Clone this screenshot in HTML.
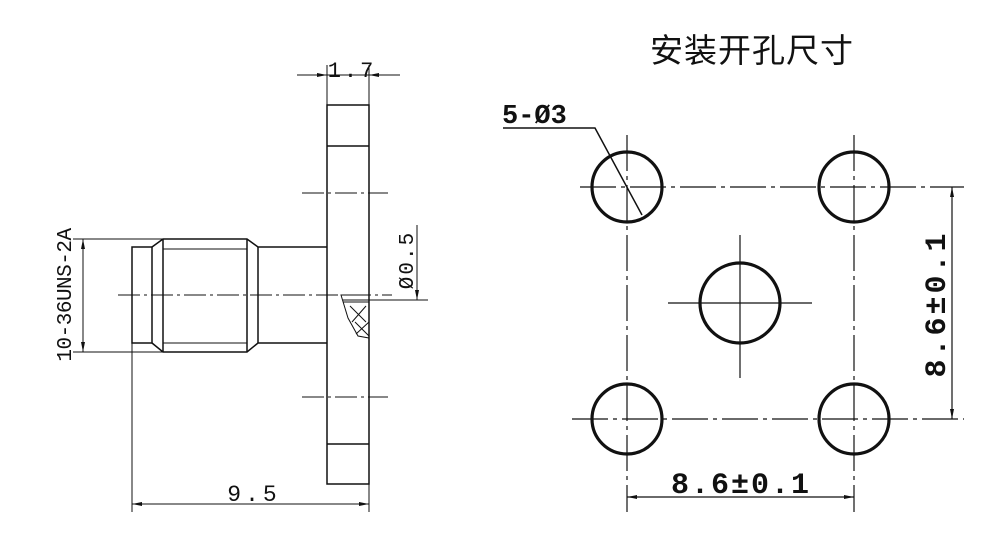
<!DOCTYPE html>
<html><head><meta charset="utf-8"><style>
html,body{margin:0;padding:0;background:#fff;width:1000px;height:544px;overflow:hidden}
svg{display:block}
text{font-family:"Liberation Mono","DejaVu Sans Mono",monospace;fill:#111}
</style></head><body>
<svg width="1000" height="544" viewBox="0 0 1000 544" xmlns="http://www.w3.org/2000/svg">
<defs>
<marker id="a" viewBox="0 0 10 4" refX="10" refY="2" markerWidth="10" markerHeight="4" orient="auto-start-reverse" markerUnits="userSpaceOnUse"><path d="M0,0 L10,2 L0,4 z" fill="#111"/></marker>
</defs>
<g stroke="#111" fill="none" stroke-width="1.5">
<rect x="327" y="105" width="42" height="379"/>
<line x1="327" y1="146" x2="369" y2="146"/>
<line x1="327" y1="444" x2="369" y2="444"/>
<rect x="132" y="247" width="20" height="96"/>
<path d="M152,247 L163,239 L247,239 L258,247 L327,247"/>
<path d="M152,343 L163,352 L247,352 L258,343 L327,343"/>
<line x1="163" y1="239" x2="163" y2="352"/>
<line x1="247" y1="239" x2="247" y2="352"/>
<line x1="258" y1="247" x2="258" y2="343"/>
<line x1="163" y1="249" x2="247" y2="249" stroke-width="1"/>
<line x1="163" y1="343" x2="247" y2="343" stroke-width="1"/>
<path d="M341,295 L369,295 L369,338 L358,336 L348,318 Z" stroke-width="1"/>
<path d="M343,300 L369,300 M343,302 L369,302 M350,306 L366,322 M366,306 L352,322 M355,322 L369,336 M369,322 L356,334" stroke-width="1"/>
</g>
<g stroke="#111" stroke-width="1" fill="none" stroke-dasharray="22,4,3,4">
<line x1="118" y1="295" x2="392" y2="295"/>
<line x1="302" y1="193" x2="388" y2="193"/>
<line x1="302" y1="397" x2="388" y2="397"/>
</g>
<g stroke="#111" stroke-width="1" fill="none">
<line x1="327" y1="65" x2="327" y2="105"/>
<line x1="369" y1="65" x2="369" y2="105"/>
<line x1="297" y1="75" x2="327" y2="75" marker-end="url(#a)"/>
<line x1="327" y1="75" x2="369" y2="75"/>
<line x1="400" y1="75" x2="369" y2="75" marker-end="url(#a)"/>
<line x1="73" y1="239" x2="163" y2="239"/>
<line x1="73" y1="352" x2="163" y2="352"/>
<line x1="83" y1="239" x2="83" y2="352" marker-start="url(#a)" marker-end="url(#a)"/>
<line x1="132" y1="343" x2="132" y2="512"/>
<line x1="369" y1="484" x2="369" y2="512"/>
<line x1="132" y1="504" x2="369" y2="504" marker-start="url(#a)" marker-end="url(#a)"/>
<line x1="417" y1="225" x2="417" y2="300" marker-end="url(#a)"/>
<line x1="369" y1="300" x2="428" y2="300"/>
</g>
<text x="352" y="77" font-size="22" letter-spacing="3" text-anchor="middle">1.7</text>
<text x="254" y="501" font-size="23" letter-spacing="4" text-anchor="middle">9.5</text>
<text transform="translate(71,295) rotate(-90)" font-size="21" letter-spacing="-0.5" text-anchor="middle">10-36UNS-2A</text>
<text transform="translate(413,260) rotate(-90)" font-size="21" letter-spacing="2" text-anchor="middle">Ø0.5</text>

<text x="752" y="62" font-size="33" letter-spacing="1" text-anchor="middle" style="font-family:'Liberation Sans','Noto Sans CJK SC',sans-serif">安装开孔尺寸</text>
<g stroke="#111" stroke-width="1.2" fill="none" stroke-dasharray="36,5,4,5">
<line x1="580" y1="187" x2="964" y2="187"/>
<line x1="572" y1="419" x2="964" y2="419"/>
<line x1="627" y1="135" x2="627" y2="512"/>
<line x1="854" y1="135" x2="854" y2="512"/>
</g>
<g stroke="#111" stroke-width="1.2" fill="none">
<line x1="668" y1="303" x2="812" y2="303"/>
<line x1="740" y1="235" x2="740" y2="378"/>
</g>
<g stroke="#111" stroke-width="3.2" fill="none">
<circle cx="627" cy="187" r="35"/>
<circle cx="854" cy="187" r="35"/>
<circle cx="627" cy="419" r="35"/>
<circle cx="854" cy="419" r="35"/>
<circle cx="740" cy="303" r="40"/>
</g>
<g stroke="#111" stroke-width="1.2" fill="none">
<line x1="952" y1="187" x2="952" y2="419" marker-start="url(#a)" marker-end="url(#a)"/>
<line x1="627" y1="497" x2="854" y2="497" marker-start="url(#a)" marker-end="url(#a)"/>
<path d="M503,128 L595,128 L642,215" stroke-width="1.5"/>
</g>
<text x="502" y="123" font-size="27" font-weight="bold">5-Ø3</text>
<text x="741" y="493" font-size="30" font-weight="bold" letter-spacing="2" text-anchor="middle">8.6±0.1</text>
<text transform="translate(945,304) rotate(-90)" font-size="30" font-weight="bold" letter-spacing="3" text-anchor="middle">8.6±0.1</text>
</svg>
</body></html>
